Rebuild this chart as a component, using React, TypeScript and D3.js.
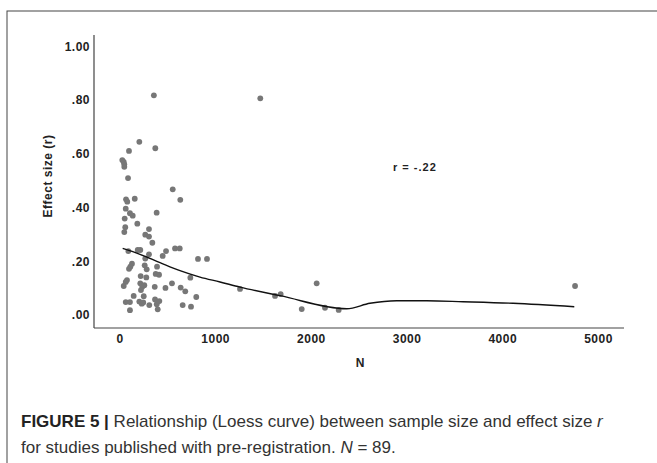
import React from "react";
import * as d3 from "d3";

// sample size (N) and effect size (r) per study
const sampleN = [
  354, 1466, 202, 94, 369, 24, 39, 45, 45, 84, 551, 630, 63, 76, 154, 60, 104,
  133, 383, 49, 181, 55, 303, 45, 264, 303, 338, 87, 185, 212, 303, 481, 446,
  575, 624, 264, 815, 909, 125, 108, 94, 258, 279, 387, 373, 408, 216, 275, 735,
  73, 60, 212, 254, 233, 543, 39, 363, 475, 634, 682, 219, 1254, 143, 248, 797,
  60, 104, 202, 227, 243, 366, 411, 384, 306, 655, 742, 104, 394, 1620, 1679,
  1899, 2055, 2142, 2285, 4755,
];
const effectR = [
  0.818, 0.807, 0.645, 0.611, 0.621, 0.577, 0.57, 0.561, 0.552, 0.51, 0.468,
  0.429, 0.431, 0.422, 0.433, 0.396, 0.379, 0.37, 0.381, 0.359, 0.34, 0.327,
  0.32, 0.309, 0.299, 0.292, 0.269, 0.238, 0.242, 0.242, 0.226, 0.238, 0.22,
  0.248, 0.248, 0.21, 0.209, 0.209, 0.191, 0.18, 0.172, 0.185, 0.17, 0.18,
  0.153, 0.15, 0.145, 0.14, 0.139, 0.13, 0.123, 0.118, 0.111, 0.105, 0.118,
  0.108, 0.105, 0.101, 0.102, 0.088, 0.093, 0.097, 0.071, 0.07, 0.067, 0.048,
  0.048, 0.05, 0.042, 0.047, 0.058, 0.052, 0.04, 0.037, 0.037, 0.031, 0.018,
  0.021, 0.071, 0.078, 0.022, 0.118, 0.027, 0.019, 0.108,
];

// loess fit as drawn
const loessN = [28, 209, 418, 627, 836, 1045, 1254, 1672, 2369, 2612, 2891, 3205, 3584, 4107, 4747];
const loessR = [0.248, 0.226, 0.195, 0.165, 0.141, 0.123, 0.104, 0.072, 0.0235, 0.0436, 0.053, 0.053, 0.0495, 0.0436, 0.031];

const xTicks = [0, 1000, 2000, 3000, 4000, 5000];
const yTicks = [0, 0.2, 0.4, 0.6, 0.8, 1.0];

const axisFont = "'Liberation Sans', Arial, sans-serif";

const App = () => {
  const x = d3.scaleLinear().domain([0, 5000]).range([120, 598.5]);
  const y = d3.scaleLinear().domain([0, 1]).range([315, 46.5]);

  const points = sampleN.map((n, i) => ({ n, r: effectR[i] }));
  const loess = loessN.map((n, i) => [n, loessR[i]] as [number, number]);

  const line = d3
    .line<[number, number]>()
    .x((d) => x(d[0]))
    .y((d) => y(d[1]))
    .curve(d3.curveMonotoneX);

  const yFmt = (d: number) => d3.format(".2f")(d).replace(/^0/, "");

  return (
    <svg
      width={657}
      height={463}
      style={{ position: "absolute", left: 0, top: 0, background: "#fff" }}
    >
      <rect x={7} y={11} width={700} height={500} fill="none" stroke="#444" strokeWidth={1} />

      {/* axes */}
      <line x1={94} x2={94} y1={35} y2={328} stroke="#444" strokeWidth={1.2} />
      <line x1={94} x2={624} y1={328} y2={328} stroke="#444" strokeWidth={1.2} />

      {yTicks.map((t) => (
        <text
          key={t}
          x={90}
          y={y(t)}
          dy="0.35em"
          textAnchor="end"
          fontFamily={axisFont}
          fontWeight="bold"
          fontSize={12}
          letterSpacing={0.5}
          fill="#222"
        >
          {yFmt(t)}
        </text>
      ))}
      {xTicks.map((t) => (
        <text
          key={t}
          x={x(t)}
          y={343}
          textAnchor="middle"
          fontFamily={axisFont}
          fontWeight="bold"
          fontSize={12}
          letterSpacing={0.5}
          fill="#222"
        >
          {t}
        </text>
      ))}

      <text
        transform={`translate(52, 176) rotate(-90)`}
        textAnchor="middle"
        fontFamily={axisFont}
        fontWeight="bold"
        fontSize={12}
        letterSpacing={0.5}
        fill="#222"
      >
        Effect size (r)
      </text>
      <text
        x={360}
        y={367}
        textAnchor="middle"
        fontFamily={axisFont}
        fontWeight="bold"
        fontSize={12}
        fill="#222"
      >
        N
      </text>

      {points.map((d, i) => (
        <circle key={i} cx={x(d.n)} cy={y(d.r)} r={2.9} fill="#777" />
      ))}

      <path d={line(loess) ?? ""} fill="none" stroke="#111" strokeWidth={1.4} />

      <text
        x={393}
        y={171}
        fontFamily={axisFont}
        fontWeight="bold"
        fontSize={11}
        letterSpacing={1}
        fill="#222"
        style={{ whiteSpace: "pre" }}
      >
        {"r = -.22"}
      </text>

      {/* caption */}
      <text x={21} y={427} fontFamily={axisFont} fontSize={17} fill="#333">
        <tspan fontWeight="bold" fill="#222">FIGURE 5 |</tspan>
        <tspan> Relationship (Loess curve) between sample size and effect size </tspan>
        <tspan fontStyle="italic">r</tspan>
      </text>
      <text x={21} y={453} fontFamily={axisFont} fontSize={17} fill="#333">
        <tspan>for studies published with pre-registration. </tspan>
        <tspan fontStyle="italic">N</tspan>
        <tspan> = 89.</tspan>
      </text>
    </svg>
  );
};

export default App;
